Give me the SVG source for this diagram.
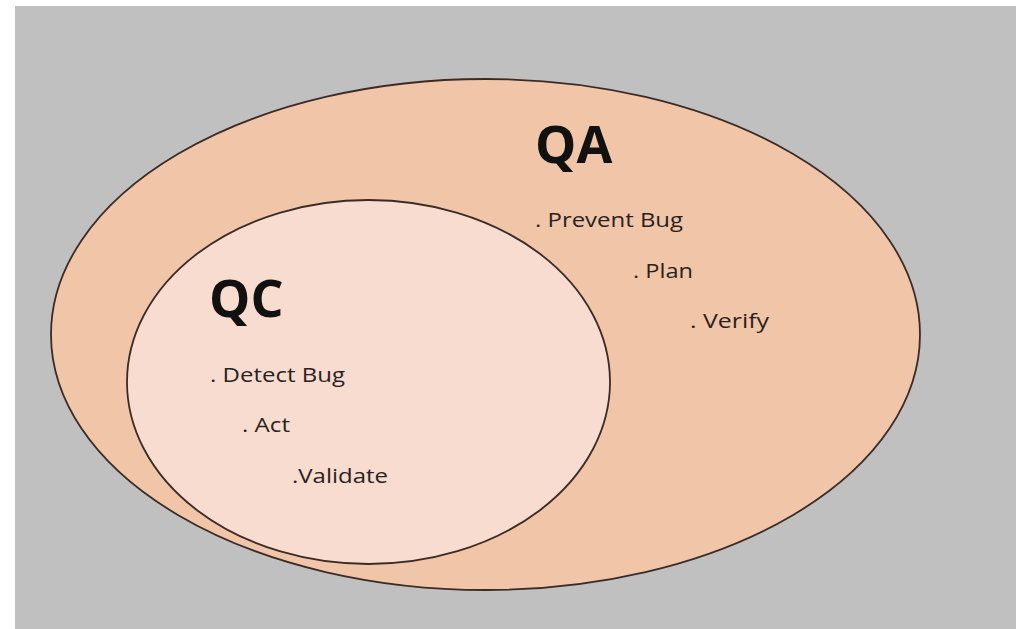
<svg xmlns="http://www.w3.org/2000/svg" width="1016" height="629" viewBox="0 0 1016 629">
  <style>
    .ring { stroke: #3b2b26; stroke-width: 1.8; }
    .title { font-family: "Open Sans", "Liberation Sans", sans-serif; font-weight: bold; font-size: 52px; fill: #111; }
    .item { font-family: "Open Sans", "Liberation Sans", sans-serif; font-size: 20.5px; fill: #2a2220; }
  </style>
  <!-- page backdrop -->
  <rect x="0" y="0" width="1016" height="629" fill="#ffffff"/>
  <rect x="15" y="6" width="1001" height="623" fill="#c0c0c0"/>

  <g id="qa">
    <ellipse class="ring" cx="485.5" cy="334.5" rx="434.5" ry="255.5" fill="#f1c5a8"/>
    <text class="title" x="535" y="163">QA</text>
    <text class="item" x="535" y="227" textLength="148" lengthAdjust="spacingAndGlyphs">. Prevent Bug</text>
    <text class="item" x="633" y="278" textLength="60" lengthAdjust="spacingAndGlyphs">. Plan</text>
    <text class="item" x="690" y="328" textLength="79" lengthAdjust="spacingAndGlyphs">. Verify</text>
  </g>

  <g id="qc">
    <ellipse class="ring" cx="368.5" cy="382" rx="241.5" ry="182" fill="#f8dccf"/>
    <text class="title" x="209" y="317">QC</text>
    <text class="item" x="210" y="382" textLength="135" lengthAdjust="spacingAndGlyphs">. Detect Bug</text>
    <text class="item" x="242" y="432" textLength="48" lengthAdjust="spacingAndGlyphs">. Act</text>
    <text class="item" x="292" y="483" textLength="96" lengthAdjust="spacingAndGlyphs">.Validate</text>
  </g>
</svg>
